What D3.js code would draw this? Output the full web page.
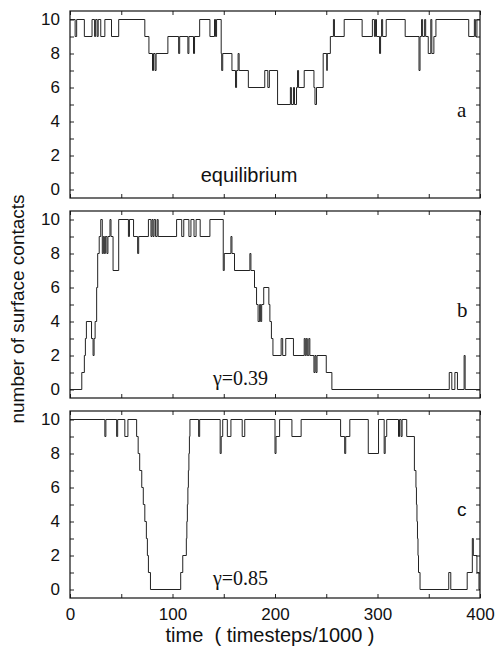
<!DOCTYPE html>
<html>
<head>
<meta charset="utf-8">
<script src="https://cdn.jsdelivr.net/npm/d3@7"></script>
<style>
  body { margin: 0; background: #fff; }
  svg { display: block; }
</style>
</head>
<body>
<div id="chart"></div>
<script>
// step traces: [time (timesteps/1000), number of surface contacts]
const stepsA = [[0,10],[5,9],[6.5,10],[14,9],[21.5,10],[24,9],[25,10],[26.5,9],[27.5,10],[30,9],
  [34,10],[40.5,9],[47.5,10],[73,9],[77,8],[80.5,7],[81.5,8],[83,7],[84,8],[95.5,9],
  [106,8],[107,9],[115,8],[116,9],[120.5,8],[121.5,9],[126.5,10],[136.5,9],[141,10],[142,9],
  [143,10],[147.5,8],[148,7],[149,8],[158,7],[161.5,6],[162.5,7],[164,8],[165,7],[174,6],
  [190,7],[193,6],[194.5,7],[202.5,5],[215,6],[216,5],[218,6],[219,5],[221,6],[222,7],
  [223,6],[228.5,7],[238,6],[239,5],[240.5,6],[247,8],[250.5,7],[251,8],[254,9],[257,10],
  [258,9],[267.5,10],[285,9],[295,10],[297,9],[298,10],[299,9],[302,8],[303,9],[304,10],
  [305,9],[308.5,10],[327,9],[340.5,7],[341.5,9],[343,10],[344,9],[346,10],[347,9],[349.5,8],
  [352,10],[353,8],[355,9],[357,10],[389,9],[394.5,10],[395.5,9],[397,10]];

const stepsB = [[0,0],[11.5,1],[14,2],[15,3],[16,4],[21,3],[22.5,2],[23.5,3],[24.5,4],[26,6],
  [27,8],[28.5,9],[30,10],[31.5,8],[32.5,9],[33.5,8],[34.5,9],[36,8],[37,9],[39,10],
  [40,9],[42,7],[47.5,10],[57,9],[58,10],[62,9],[66,8],[67,9],[76.5,10],[79,9],
  [80,10],[81,9],[82,10],[83.5,9],[85,10],[86,9],[104,10],[109,9],[111,10],[116,9],
  [118,10],[121,9],[123,10],[127,9],[136.5,10],[149.5,7],[150.5,8],[157,9],[158,8],[160.5,7],
  [175.5,8],[176.5,7],[180,6],[182,5],[183.5,4],[185,5],[186,4],[187,5],[189,6],[194,5],
  [195,4],[196.5,3],[198,2],[206,3],[207.5,2],[210.5,3],[218,2],[228.5,3],[229.5,2],[230.5,3],
  [231.5,2],[233,3],[234,2],[238,1],[239,2],[240,1],[241,2],[250,1],[255.5,0],[370,1],
  [372.5,0],[375.5,1],[378,0],[384.5,2],[385.5,0]];

const stepsC = [[0,10],[34,9],[35,10],[45.5,9],[46.5,10],[53.5,9],[56.5,10],[65,9],[66.5,8],[68,7],
  [70,6],[71.5,5],[73,4],[74.5,3],[75.5,2],[76.5,1],[78.5,0],[108,1],[110,2],[113.5,3],
  [114,4],[114.5,5],[115,6],[115.5,7],[116,8],[116.5,9],[117,10],[125.5,9],[126.5,10],[146.5,8],
  [147.5,9],[149,10],[153.5,9],[157,10],[168,9],[170.5,10],[200,8],[201,9],[204.5,10],[216.5,9],
  [225.5,10],[264,9],[268,8],[269,9],[273,10],[291,8],[301,10],[306.5,8],[307.5,9],[309,10],
  [320.5,9],[321.5,10],[323,9],[324,10],[328.5,9],[336,7],[337.5,6],[338,5],[338.5,4],[339,3],
  [339.5,2],[340,1],[341.5,0],[369.5,1],[371.5,0],[387.5,1],[392.5,3],[393.5,2],[397,1],[399,0]];

const panelLetters = ["a", "b", "c"];
const panelNotes = ["equilibrium", "\u03b3=0.39", "\u03b3=0.85"];
const yTickLabels = [0, 2, 4, 6, 8, 10];
const xTickLabels = [0, 100, 200, 300, 400];

const width = 495, height = 648;
const sans = "'Liberation Sans', Arial, Helvetica, sans-serif";
const serif = "'Liberation Serif', 'Times New Roman', serif";

const svg = d3.select("#chart").append("svg")
  .attr("width", width)
  .attr("height", height);

const x = d3.scaleLinear().domain([0, 400]).range([70, 480]);
const panelH = 187;
const tops = [11, 211, 411];

const panels = [
  {steps: stepsA, letter: panelLetters[0], note: panelNotes[0]},
  {steps: stepsB, letter: panelLetters[1], note: panelNotes[1]},
  {steps: stepsC, letter: panelLetters[2], note: panelNotes[2]}
];

panels.forEach((p, i) => {
  const top = tops[i];
  const bottom = top + panelH;
  const y = d3.scaleLinear().domain([-0.5, 10.5]).range([bottom, top]);
  const g = svg.append("g");

  // trace
  const pts = p.steps.concat([[400, p.steps[p.steps.length - 1][1]]]);
  const line = d3.line()
    .x(d => x(d[0]))
    .y(d => y(d[1]))
    .curve(d3.curveStepAfter);
  g.append("path")
    .datum(pts)
    .attr("fill", "none")
    .attr("stroke", "#222")
    .attr("stroke-width", 1)
    .attr("d", line);

  // axes, ticks pointing inward
  const styleAxis = a => a
    .call(s => s.select(".domain").remove())
    .call(s => s.selectAll(".tick line").attr("stroke", "#222").attr("stroke-width", 1));

  g.append("g")
    .attr("transform", `translate(70,0)`)
    .call(d3.axisLeft(y).tickValues(d3.range(0, 11)).tickSize(-4).tickPadding(10)
      .tickFormat(d => yTickLabels.includes(d) ? d : ""))
    .call(styleAxis)
    .call(s => s.selectAll("text").style("font", `17px ${sans}`).attr("fill", "#111"));

  g.append("g")
    .attr("transform", `translate(480,0)`)
    .call(d3.axisRight(y).tickValues(d3.range(0, 11)).tickSize(-4).tickFormat(""))
    .call(styleAxis);

  g.append("g")
    .attr("transform", `translate(0,${top})`)
    .call(d3.axisTop(x).tickValues(d3.range(0, 401, 50)).tickSize(-4).tickFormat(""))
    .call(styleAxis);

  g.append("g")
    .attr("transform", `translate(0,${bottom})`)
    .call(d3.axisBottom(x).tickValues(d3.range(0, 401, 50)).tickSize(-4).tickPadding(10)
      .tickFormat(d => (i === 2 && xTickLabels.includes(d)) ? d : ""))
    .call(styleAxis)
    .call(s => s.selectAll("text").style("font", `17px ${sans}`).attr("fill", "#111"));

  // frame
  g.append("rect")
    .attr("x", 70).attr("y", top)
    .attr("width", 410).attr("height", panelH)
    .attr("fill", "none")
    .attr("stroke", "#111")
    .attr("stroke-width", 1.2);

  // panel letter
  g.append("text")
    .attr("x", 457)
    .attr("y", top + [106, 106, 105][i])
    .style("font", i === 2 ? `19px ${sans}` : `21px ${serif}`)
    .attr("fill", "#111")
    .text(p.letter);

  // annotation
  if (i === 0) {
    g.append("text")
      .attr("x", 249).attr("y", top + 171)
      .attr("text-anchor", "middle")
      .style("font", `20px ${sans}`)
      .attr("fill", "#111")
      .text(p.note);
  } else {
    g.append("text")
      .attr("x", 213).attr("y", top + 174)
      .style("font", `20px ${serif}`)
      .attr("fill", "#111")
      .text(p.note);
  }
});

svg.append("text")
  .attr("transform", "translate(24,309) rotate(-90)")
  .attr("text-anchor", "middle")
  .style("font", `19px ${sans}`)
  .attr("fill", "#111")
  .text("number of surface contacts");

svg.append("text")
  .attr("x", 270).attr("y", 642)
  .attr("text-anchor", "middle")
  .style("font", `20px ${sans}`)
  .style("white-space", "pre")
  .attr("fill", "#111")
  .text("time  ( timesteps/1000 )");
</script>
</body>
</html>
